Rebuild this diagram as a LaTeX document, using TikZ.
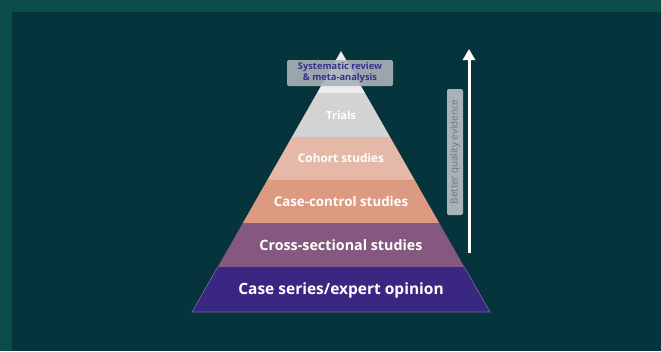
\documentclass[tikz,border=0pt]{standalone}
\usepackage{fontspec}
\setmainfont{Open Sans}
\usetikzlibrary{calc,arrows.meta}

\definecolor{frame}{HTML}{0B4D48}
\definecolor{panel}{HTML}{06343D}
\definecolor{tipgray}{HTML}{ECECEC}
\definecolor{trialgray}{HTML}{D3D3D3}
\definecolor{cohortpink}{HTML}{E5B9A8}
\definecolor{casesalmon}{HTML}{DC9A80}
\definecolor{crossmauve}{HTML}{85597F}
\definecolor{seriesindigo}{HTML}{3A2782}
\definecolor{labelbox}{HTML}{A9B3B7}
\definecolor{labeltext}{HTML}{6D767A}
\definecolor{sysblue}{HTML}{3B2D8C}

\begin{document}
\begin{tikzpicture}[x=1pt,y=-1pt,
    level/.style = {
      font = \bfseries,
      text = white
    },
    tag/.style = {
      fill = labelbox,
      rounded corners = 2pt,
      inner sep = 2pt
    }
  ]
  \useasboundingbox (0,0) rectangle (661,351);
  \fill[frame] (0,0) rectangle (661,351);
  \fill[panel] (12,12) rectangle (661,351);

  \coordinate (apex) at (341,51);
  \coordinate (bl) at (192,312);
  \coordinate (br) at (490,312);

  % bands, top to bottom
  \foreach \ta/\tb/\col in {0/0.161/tipgray, 0.161/0.3295/trialgray,
      0.3295/0.494/cohortpink, 0.494/0.659/casesalmon,
      0.659/0.828/crossmauve, 0.828/1/seriesindigo}
    \fill[\col] ($(apex)!\ta!(bl)$) -- ($(apex)!\tb!(bl)$)
      -- ($(apex)!\tb!(br)$) -- ($(apex)!\ta!(br)$) -- cycle;
  \draw[seriesindigo!70!white, line width=0.6pt]
    ($(apex)!0.828!(bl)$) -- (bl) -- (br) -- ($(apex)!0.828!(br)$);

  \node[level, font=\bfseries\fontsize{15.5}{18}\selectfont] (series) at (341,290) {Case series/expert opinion};
  \node[level, font=\bfseries\fontsize{14.3}{17}\selectfont] (cross) at (341,245) {Cross-sectional studies};
  \node[level, font=\bfseries\fontsize{13.3}{16}\selectfont] (casectl) at (341,202) {Case-control studies};
  \node[level, font=\bfseries\fontsize{11.8}{14}\selectfont] (cohort) at (341,158) {Cohort studies};
  \node[level, font=\bfseries\fontsize{11}{13}\selectfont] (trials) at (341,115) {Trials};
  \node[tag, fill opacity=0.9, text opacity=1, text=sysblue, align=center,
    minimum width=106pt, minimum height=26pt, inner sep=1pt,
    font=\bfseries\fontsize{9.3}{11}\selectfont] (sysrev) at (340,73)
    {Systematic review\\ \& meta-analysis};

  \coordinate (low) at (469,253);
  \coordinate (high) at (469,49);
  \draw[white, line width=3pt, -{Triangle[width=12pt,length=11pt]}] (low) -- (high);
  \node[tag, rotate=90, text=labeltext, minimum width=126pt, minimum height=16pt,
    font=\fontsize{9.8}{11}\selectfont] (better) at (455,152) {Better quality evidence};
\end{tikzpicture}
\end{document}
